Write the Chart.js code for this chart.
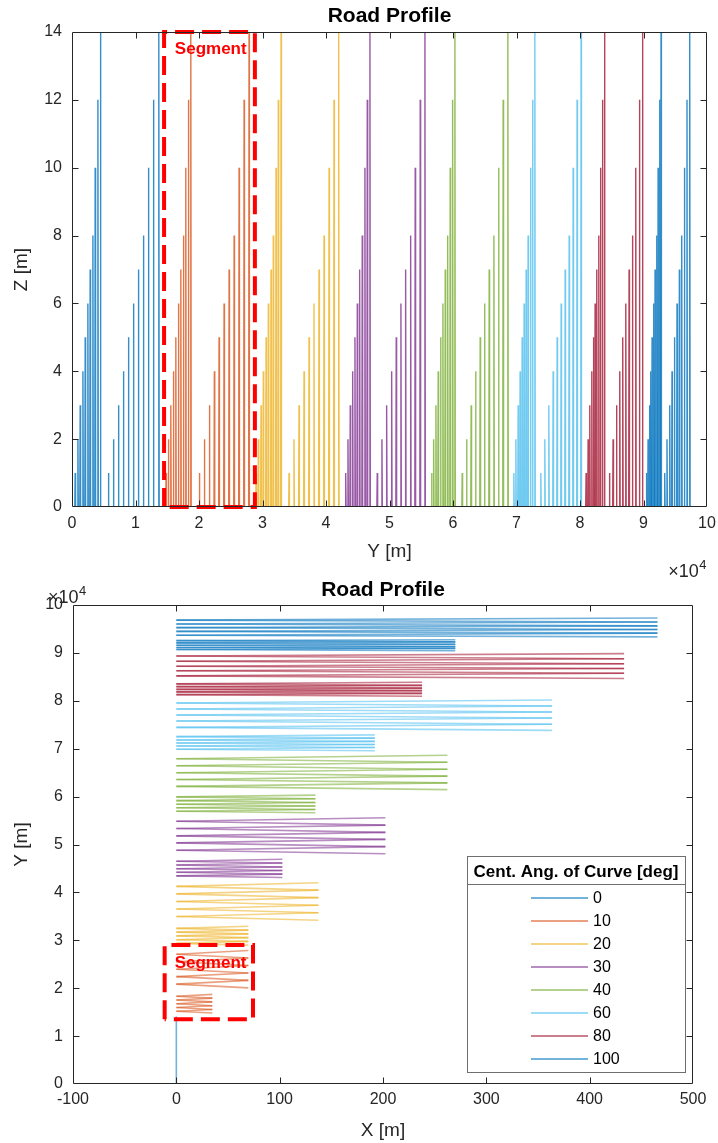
<!DOCTYPE html>
<html>
<head>
<meta charset="utf-8">
<title>Road Profile</title>
<script src="https://cdn.jsdelivr.net/npm/chart.js@4.4.1/dist/chart.umd.min.js"></script>
<style>
    html, body { margin: 0; padding: 0; background: #fff; }
    #wrap { position: relative; width: 718px; height: 1143px; }
    canvas { position: absolute; left: 0; }
    #profileChart { top: 0; }
    #planChart { top: 570px; }
</style>
</head>
<body>
<div id="wrap">
    <canvas id="profileChart" width="718" height="590"></canvas>
    <canvas id="planChart" width="718" height="573"></canvas>
</div>
<script>
// All Y values are in units of 1e4 m, as on the axes

const angleLabels = ['0', '10', '20', '30', '40', '60', '80', '100'];
const lineColors = ['#0072BD', '#D95319', '#EDB120', '#7E2F8E', '#77AC30', '#4DBEEE', '#A2142F', '#0072BD'];

// peak heights Z [m], same for every ramp
const peakHeights = [1, 2, 3, 4, 5, 6, 7, 8, 10, 12, 14];

// peak positions along Y, short ramp of each angle
const shortRampY = [
    [0.050, 0.093, 0.129, 0.172, 0.208, 0.250, 0.286, 0.329, 0.365, 0.408, 0.448],
    [1.482, 1.518, 1.556, 1.597, 1.635, 1.676, 1.714, 1.755, 1.792, 1.833, 1.871],
    [2.899, 2.935, 2.977, 3.013, 3.056, 3.092, 3.134, 3.170, 3.213, 3.249, 3.292],
    [4.310, 4.346, 4.382, 4.420, 4.456, 4.493, 4.530, 4.571, 4.613, 4.650, 4.692],
    [5.663, 5.695, 5.731, 5.767, 5.805, 5.841, 5.878, 5.916, 5.956, 5.994, 6.030],
    [6.958, 6.990, 7.026, 7.057, 7.089, 7.120, 7.152, 7.183, 7.221, 7.253, 7.289],
    [8.096, 8.128, 8.154, 8.186, 8.212, 8.238, 8.264, 8.296, 8.323, 8.354, 8.386],
    [9.046, 9.072, 9.094, 9.114, 9.135, 9.161, 9.182, 9.209, 9.230, 9.256, 9.276]
];

// peak positions along Y, long ramp of each angle
const longRampY = [
    [0.574, 0.653, 0.732, 0.810, 0.889, 0.968, 1.046, 1.125, 1.204, 1.283, 1.367],
    [2.006, 2.085, 2.164, 2.242, 2.316, 2.395, 2.474, 2.553, 2.631, 2.710, 2.788],
    [3.418, 3.496, 3.575, 3.654, 3.733, 3.811, 3.890, 3.969, 4.048, 4.126, 4.200],
    [4.807, 4.881, 4.955, 5.034, 5.106, 5.180, 5.254, 5.333, 5.405, 5.484, 5.558],
    [6.145, 6.214, 6.286, 6.356, 6.428, 6.497, 6.570, 6.644, 6.718, 6.790, 6.864],
    [7.383, 7.446, 7.509, 7.577, 7.640, 7.703, 7.766, 7.829, 7.892, 7.954, 8.017],
    [8.464, 8.521, 8.575, 8.626, 8.673, 8.721, 8.773, 8.826, 8.878, 8.936, 8.984],
    [9.334, 9.370, 9.413, 9.449, 9.487, 9.528, 9.565, 9.602, 9.644, 9.685, 9.728]
];

// how far the road swings out in X [m] (short ramp / long ramp)
const shortLoopX = [0, 34.8, 69.7, 102.6, 134.6, 192.0, 237.8, 270.0];
const longLoopX = [0, 69.7, 137.5, 202.3, 262.3, 363.5, 433.3, 465.6];

// the 0 deg road is straight along X = 0
const straightY = [0, 1.41];

// "Segment" boxes
const boxProfileY = [1.45, 2.88];
const boxProfileZ = [0, 14];
const boxPlanX = [-11.3, 74.2];
const boxPlanY = [1.35, 2.90];

// tick labels
const profileYTicks = [0, 1, 2, 3, 4, 5, 6, 7, 8, 9, 10];
const profileZTicks = [0, 2, 4, 6, 8, 10, 12, 14];
const planXTicks = [-100, 0, 100, 200, 300, 400, 500];
const planYTicks = [0, 1, 2, 3, 4, 5, 6, 7, 8, 9, 10];

const FONT = '"Liberation Sans", Arial, Helvetica, sans-serif';
const PEAK_HALF = 0.006;

function rgba(hex, a) {
    const n = parseInt(hex.slice(1), 16);
    return `rgba(${(n >> 16) & 255}, ${(n >> 8) & 255}, ${n & 255}, ${a})`;
}

// each peak: up and back down, stroked on its own
function profilePoints(i) {
    const pts = [];
    [shortRampY[i], longRampY[i]].forEach(ramp => {
        ramp.forEach((y, j) => {
            pts.push({x: y - PEAK_HALF, y: 0}, {x: y, y: peakHeights[j]}, {x: y + PEAK_HALF, y: 0});
            pts.push({x: y + PEAK_HALF, y: null});
        });
    });
    return pts;
}

// serpentine: turns alternate between the far end and X = 0
function planPoints(i) {
    if (i === 0) {
        return straightY.map(y => ({x: 0, y: y}));
    }
    const pts = [];
    [[shortRampY[i], shortLoopX[i]], [longRampY[i], longLoopX[i]]].forEach(([ramp, xMax]) => {
        for (let j = 0; j < ramp.length - 1; j++) {
            const xa = j % 2 === 0 ? xMax : 0;
            const xb = j % 2 === 0 ? 0 : xMax;
            pts.push({x: xa, y: ramp[j]}, {x: xb, y: ramp[j + 1]}, {x: xb, y: null});
        }
    });
    return pts;
}

function boxPoints(xs, ys) {
    return [
        {x: xs[0], y: ys[0]}, {x: xs[0], y: ys[1]}, {x: xs[1], y: ys[1]},
        {x: xs[1], y: ys[0]}, {x: xs[0], y: ys[0]}
    ];
}

function axisConfig(min, max, tickValues, padding, fitSize, horizontal) {
    return {
        type: 'linear',
        min: min,
        max: max,
        afterBuildTicks: s => { s.ticks = tickValues.map(v => ({value: v})); },
        afterFit: s => {
            if (horizontal) s.height = fitSize; else s.width = fitSize;
            s.paddingLeft = 0; s.paddingRight = 0; s.paddingTop = 0; s.paddingBottom = 0;
        },
        grid: {display: false, drawTicks: false},
        border: {display: false},
        ticks: {
            autoSkip: false,
            maxRotation: 0,
            padding: padding,
            color: '#262626',
            font: {family: FONT, size: 16},
            callback: v => String(v)
        }
    };
}

// box round the plot with inward ticks on all four sides
const matlabAxes = {
    id: 'matlabAxes',
    afterDatasetsDraw(chart) {
        const {ctx, chartArea: a, scales} = chart;
        const L = Math.round(a.left) + 0.5, R = Math.round(a.right) - 0.5;
        const T = Math.round(a.top) + 0.5, B = Math.round(a.bottom) - 0.5;
        const tl = 6;
        ctx.save();
        ctx.strokeStyle = '#262626';
        ctx.lineWidth = 1;
        ctx.beginPath();
        ctx.rect(L, T, R - L, B - T);
        scales.x.ticks.forEach(t => {
            const px = Math.round(scales.x.getPixelForValue(t.value)) + 0.5;
            if (px <= L + 1 || px >= R - 1) return;
            ctx.moveTo(px, B); ctx.lineTo(px, B - tl);
            ctx.moveTo(px, T); ctx.lineTo(px, T + tl);
        });
        scales.y.ticks.forEach(t => {
            const py = Math.round(scales.y.getPixelForValue(t.value)) + 0.5;
            if (py <= T + 1 || py >= B - 1) return;
            ctx.moveTo(L, py); ctx.lineTo(L + tl, py);
            ctx.moveTo(R, py); ctx.lineTo(R - tl, py);
        });
        ctx.stroke();
        ctx.restore();
    }
};

// titles, exponent, segment label and legend
const annotate = {
    id: 'annotate',
    afterDraw(chart, args, o) {
        const {ctx, chartArea: a, scales} = chart;
        const cx = (a.left + a.right) / 2;
        ctx.save();
        ctx.textBaseline = 'middle';
        ctx.textAlign = 'center';

        ctx.fillStyle = '#000';
        ctx.font = `bold 21px ${FONT}`;
        ctx.fillText(o.title, cx, o.titleY);

        ctx.fillStyle = '#262626';
        ctx.font = `19px ${FONT}`;
        ctx.fillText(o.xTitle, cx, o.xTitleY);
        ctx.save();
        ctx.translate(o.yTitleX, (a.top + a.bottom) / 2);
        ctx.rotate(-Math.PI / 2);
        ctx.fillText(o.yTitle, 0, 0);
        ctx.restore();

        // x10^4 exponent
        ctx.textAlign = 'left';
        ctx.font = `18px ${FONT}`;
        const wBase = ctx.measureText('\u00d710').width;
        ctx.font = `13px ${FONT}`;
        const wSup = ctx.measureText('4').width;
        const ex = o.expAlign === 'right' ? o.expX - wBase - wSup : o.expX;
        ctx.font = `18px ${FONT}`;
        ctx.fillText('\u00d710', ex, o.expY);
        ctx.font = `13px ${FONT}`;
        ctx.fillText('4', ex + wBase + 0.5, o.expY - 7);

        // segment label
        ctx.fillStyle = '#FF0000';
        ctx.font = `bold 17px ${FONT}`;
        ctx.fillText('Segment', scales.x.getPixelForValue(o.segX), scales.y.getPixelForValue(o.segY));

        if (o.legend) {
            const lg = o.legend;
            ctx.fillStyle = '#fff';
            ctx.fillRect(lg.left, lg.top, lg.right - lg.left, lg.bottom - lg.top);
            ctx.strokeStyle = '#6e6e6e';
            ctx.lineWidth = 1;
            ctx.strokeRect(lg.left + 0.5, lg.top + 0.5, lg.right - lg.left, lg.bottom - lg.top);
            ctx.beginPath();
            ctx.moveTo(lg.left, lg.sep + 0.5);
            ctx.lineTo(lg.right, lg.sep + 0.5);
            ctx.stroke();
            ctx.fillStyle = '#000';
            ctx.textAlign = 'center';
            ctx.font = `bold 17px ${FONT}`;
            ctx.fillText('Cent. Ang. of Curve [deg]', (lg.left + lg.right) / 2, lg.titleY);
            ctx.textAlign = 'left';
            ctx.font = `16px ${FONT}`;
            angleLabels.forEach((lab, i) => {
                const y = lg.firstRow + i * lg.rowGap;
                ctx.strokeStyle = rgba(lineColors[i], 0.55);
                ctx.lineWidth = 2;
                ctx.beginPath();
                ctx.moveTo(lg.lineX0, y);
                ctx.lineTo(lg.lineX1, y);
                ctx.stroke();
                ctx.fillStyle = '#000';
                ctx.fillText(lab, lg.textX, y + 1);
            });
        }
        ctx.restore();
    }
};

const sharedOptions = {
    responsive: false,
    animation: false,
    events: [],
    elements: {point: {radius: 0}}
};

function seriesDatasets(builder, alpha, width) {
    return angleLabels.map((lab, i) => ({
        label: lab,
        data: builder(i),
        borderColor: rgba(lineColors[i], alpha),
        borderWidth: width,
        pointRadius: 0,
        spanGaps: false,
        // stroke every piece on its own so overlaps darken as in the original
        segment: {borderColor: () => undefined}
    }));
}

function boxDataset(points) {
    return {
        label: 'Segment',
        data: points,
        borderColor: '#FF0000',
        borderWidth: 4,
        borderDash: [19, 8],
        pointRadius: 0,
        clip: false,
        order: -1
    };
}

new Chart(document.getElementById('profileChart'), {
    type: 'line',
    data: {
        datasets: seriesDatasets(profilePoints, 0.8, 1.4).concat([boxDataset(boxPoints(boxProfileY, boxProfileZ))])
    },
    options: Object.assign({}, sharedOptions, {
        layout: {padding: {left: 0, top: 32, right: 11, bottom: 0}},
        scales: {
            x: axisConfig(0, 10, profileYTicks, 7, 83, true),
            y: axisConfig(0, 14, profileZTicks, 10, 72, false)
        },
        plugins: {
            legend: {display: false},
            tooltip: {enabled: false},
            annotate: {
                title: 'Road Profile', titleY: 16,
                xTitle: 'Y [m]', xTitleY: 552,
                yTitle: 'Z [m]', yTitleX: 22,
                expX: 706, expY: 572, expAlign: 'right',
                segX: 1.62, segY: 13.5
            }
        }
    }),
    plugins: [matlabAxes, annotate]
});

new Chart(document.getElementById('planChart'), {
    type: 'line',
    data: {
        datasets: seriesDatasets(planPoints, 0.55, 1.6).concat([boxDataset(boxPoints(boxPlanX, boxPlanY))])
    },
    options: Object.assign({}, sharedOptions, {
        layout: {padding: {left: 0, top: 35, right: 25, bottom: 0}},
        scales: {
            x: axisConfig(-100, 500, planXTicks, 6, 59, true),
            y: axisConfig(0, 10, planYTicks, 10, 73, false)
        },
        plugins: {
            legend: {display: false},
            tooltip: {enabled: false},
            annotate: {
                title: 'Road Profile', titleY: 20,
                xTitle: 'X [m]', xTitleY: 561,
                yTitle: 'Y [m]', yTitleX: 22,
                expX: 48, expY: 28, expAlign: 'left',
                segX: -1.6, segY: 2.53,
                legend: {
                    left: 467, right: 685, top: 286, bottom: 502, sep: 314, titleY: 302,
                    firstRow: 328, rowGap: 23, lineX0: 531, lineX1: 588, textX: 593
                }
            }
        }
    }),
    plugins: [matlabAxes, annotate]
});
</script>
</body>
</html>
